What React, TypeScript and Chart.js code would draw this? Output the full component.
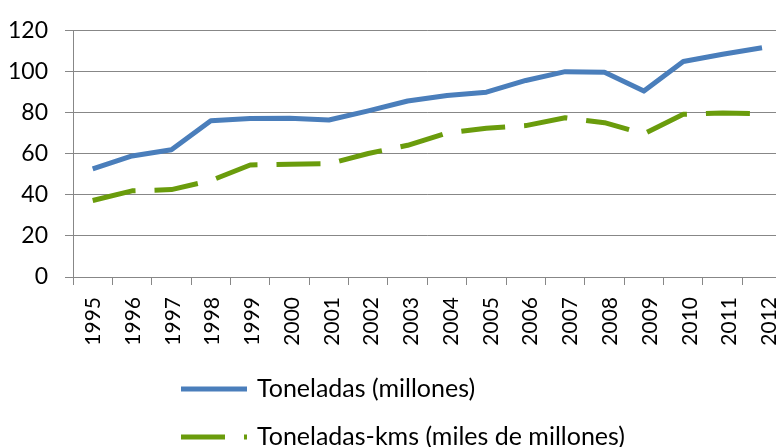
import React, { useEffect, useRef } from "react";
import { Chart, registerables } from "chart.js";

Chart.register(...registerables);

const years = [
  "1995", "1996", "1997", "1998", "1999", "2000", "2001", "2002", "2003",
  "2004", "2005", "2006", "2007", "2008", "2009", "2010", "2011", "2012",
];
const toneladas = [
  52.7, 59.0, 62.0, 76.2, 77.3, 77.4, 76.5, 81.0, 85.8,
  88.5, 90.1, 95.8, 100.1, 99.8, 90.6, 105.0, 108.6, 111.7,
];
const toneladasKms = [
  37.3, 42.0, 42.6, 47.0, 54.6, 55.0, 55.2, 60.2, 64.2,
  70.2, 72.5, 73.8, 77.6, 75.2, 69.8, 79.3, 79.9, 79.6,
];
const seriesNames = ["Toneladas (millones)", "Toneladas-kms (miles de millones)"];
const yMin = 0;
const yMax = 120;
const yStep = 20;

const FONT = "Lato, 'Open Sans', sans-serif";
const GRID = "#878787";
const BLUE = "#4a7ebb";
const GREEN = "#6a9c0c";

const legendPlugin = {
  id: "customLegend",
  afterDraw(chart: any) {
    const ctx = chart.ctx;
    const rows = [389, 437];
    chart.data.datasets.forEach((ds: any, i: number) => {
      const y = rows[i];
      ctx.save();
      ctx.beginPath();
      ctx.strokeStyle = ds.borderColor;
      ctx.lineWidth = ds.borderWidth;
      ctx.lineCap = "butt";
      ctx.setLineDash(ds.borderDash || []);
      ctx.moveTo(181, y);
      ctx.lineTo(247, y);
      ctx.stroke();
      ctx.setLineDash([]);
      ctx.fillStyle = "#000";
      ctx.font = `25px ${FONT}`;
      ctx.textBaseline = "middle";
      ctx.textAlign = "left";
      ctx.fillText(ds.label, 257, y);
      ctx.restore();
    });
  },
};

export default function App() {
  const ref = useRef<HTMLCanvasElement>(null);
  useEffect(() => {
    if (!ref.current) return;
    const chart = new Chart(ref.current, {
      type: "line",
      data: {
        labels: years,
        datasets: [
          {
            label: seriesNames[0],
            data: toneladas,
            borderColor: BLUE,
            backgroundColor: BLUE,
            borderWidth: 5,
            pointRadius: 0,
            tension: 0,
            borderJoinStyle: "round",
            borderCapStyle: "butt",
          },
          {
            label: seriesNames[1],
            data: toneladasKms,
            borderColor: GREEN,
            backgroundColor: GREEN,
            borderWidth: 5,
            borderDash: [44, 19],
            pointRadius: 0,
            tension: 0,
            borderJoinStyle: "round",
            borderCapStyle: "butt",
          },
        ],
      },
      options: {
        responsive: false,
        animation: false,
        devicePixelRatio: 1,
        layout: { padding: { left: 0, right: 0, top: 27, bottom: 100 } },
        plugins: {
          legend: { display: false },
          tooltip: { enabled: false },
        },
        scales: {
          x: {
            offset: true,
            grid: {
              offset: true,
              drawOnChartArea: false,
              drawTicks: true,
              tickLength: 8,
              color: GRID,
              lineWidth: 1,
            },
            border: { display: true, color: GRID, width: 1 },
            ticks: { display: false, autoSkip: false },
            afterFit(scale: any) {
              scale.height = 8;
            },
          },
          xLabels: {
            type: "linear",
            position: "bottom",
            min: -0.508,
            max: 17.31,
            grid: { display: false, drawTicks: false },
            border: { display: false },
            ticks: {
              stepSize: 1,
              includeBounds: false,
              autoSkip: false,
              maxRotation: 90,
              minRotation: 90,
              padding: 12,
              color: "#000",
              font: { family: FONT, size: 21 },
              callback: (v: any) =>
                Number.isInteger(v) && years[v] !== undefined ? years[v] : "",
            },
            afterFit(scale: any) {
              scale.height = 62;
            },
          },
          y: {
            min: yMin,
            max: yMax,
            grid: {
              color: GRID,
              lineWidth: 1,
              drawTicks: true,
              tickLength: 8,
            },
            border: { display: true, color: GRID, width: 1 },
            ticks: {
              stepSize: yStep,
              padding: 17,
              color: "#000",
              font: { family: FONT, size: 23 },
            },
            afterFit(scale: any) {
              scale.width = 73;
            },
          },
        },
      },
      plugins: [legendPlugin],
    });
    return () => chart.destroy();
  }, []);

  return (
    <div
      style={{
        position: "fixed",
        left: 0,
        top: 0,
        width: 776,
        height: 447,
        overflow: "hidden",
        background: "#fff",
      }}
    >
      <canvas ref={ref} width={807} height={447} style={{ display: "block" }} />
    </div>
  );
}
